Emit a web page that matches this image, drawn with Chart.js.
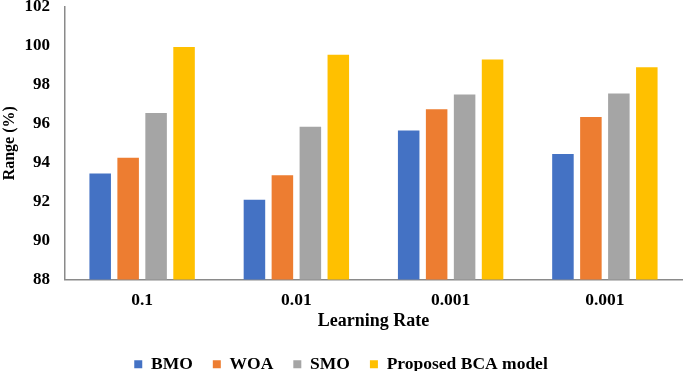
<!DOCTYPE html>
<html><head><meta charset="utf-8">
<script src="https://cdn.jsdelivr.net/npm/chart.js@4"></script>
<style>html,body{margin:0;padding:0;background:#fff}#w{width:685px;height:371px}</style>
</head><body><div id="w"><canvas id="c"></canvas></div>
<script>
const categories = ["0.1", "0.01", "0.001", "0.001"];
const seriesNames = ["BMO", "WOA", "SMO", "Proposed BCA model"];
const bmo = [93.45, 92.1, 95.65, 94.45];
const woa = [94.25, 93.35, 96.75, 96.35];
const smo = [96.55, 95.85, 97.5, 97.55];
const bca = [99.95, 99.55, 99.3, 98.9];
const yTicks = [88, 90, 92, 94, 96, 98, 100, 102];
const colors = ["#4472C4", "#ED7D31", "#A5A5A5", "#FFC000"];
const font = "'Liberation Serif', 'Times New Roman', serif";
const values = [bmo, woa, smo, bca];
new Chart(document.getElementById('c'), {
  type: 'bar',
  data: {
    labels: categories,
    datasets: values.map((v, i) => ({
      label: seriesNames[i], data: v, backgroundColor: colors[i],
      borderWidth: 0, barPercentage: 0.77, categoryPercentage: 0.725
    }))
  },
  options: {
    responsive: true, maintainAspectRatio: false, animation: false,
    layout: { padding: { top: 0, right: 3, left: 0, bottom: -12 } },
    plugins: {
      tooltip: { enabled: false },
      legend: {
        position: 'bottom',
        labels: { boxWidth: 8, boxHeight: 8, padding: 20, color: '#000',
          font: { family: font, size: 17.5, weight: 'bold' } }
      }
    },
    scales: {
      x: {
        afterFit: s => { s.height = 56; },
        grid: { display: false, drawTicks: false },
        border: { display: true, color: '#8a8a8a', width: 1.5 },
        ticks: { color: '#000', padding: 10, font: { family: font, size: 17.5, weight: 'bold' } },
        title: { display: true, text: 'Learning Rate', color: '#000', padding: { top: 0, bottom: 3 },
          font: { family: font, size: 18, weight: 'bold' } }
      },
      y: {
        min: 88, max: 102,
        afterBuildTicks: s => { s.ticks = yTicks.map(v => ({ value: v })); },
        afterFit: s => { s.width = 65; s.paddingTop = 7; s.paddingBottom = 0; },
        grid: { display: false, drawTicks: false },
        border: { display: true, color: '#8a8a8a', width: 1.5 },
        ticks: { color: '#000', padding: 15, font: { family: font, size: 17, weight: 'bold' } },
        title: { display: true, text: 'Range (%)', color: '#000', padding: { top: 0, bottom: 0 },
          font: { family: font, size: 16, weight: 'bold' } }
      }
    }
  }
});
</script></body></html>
